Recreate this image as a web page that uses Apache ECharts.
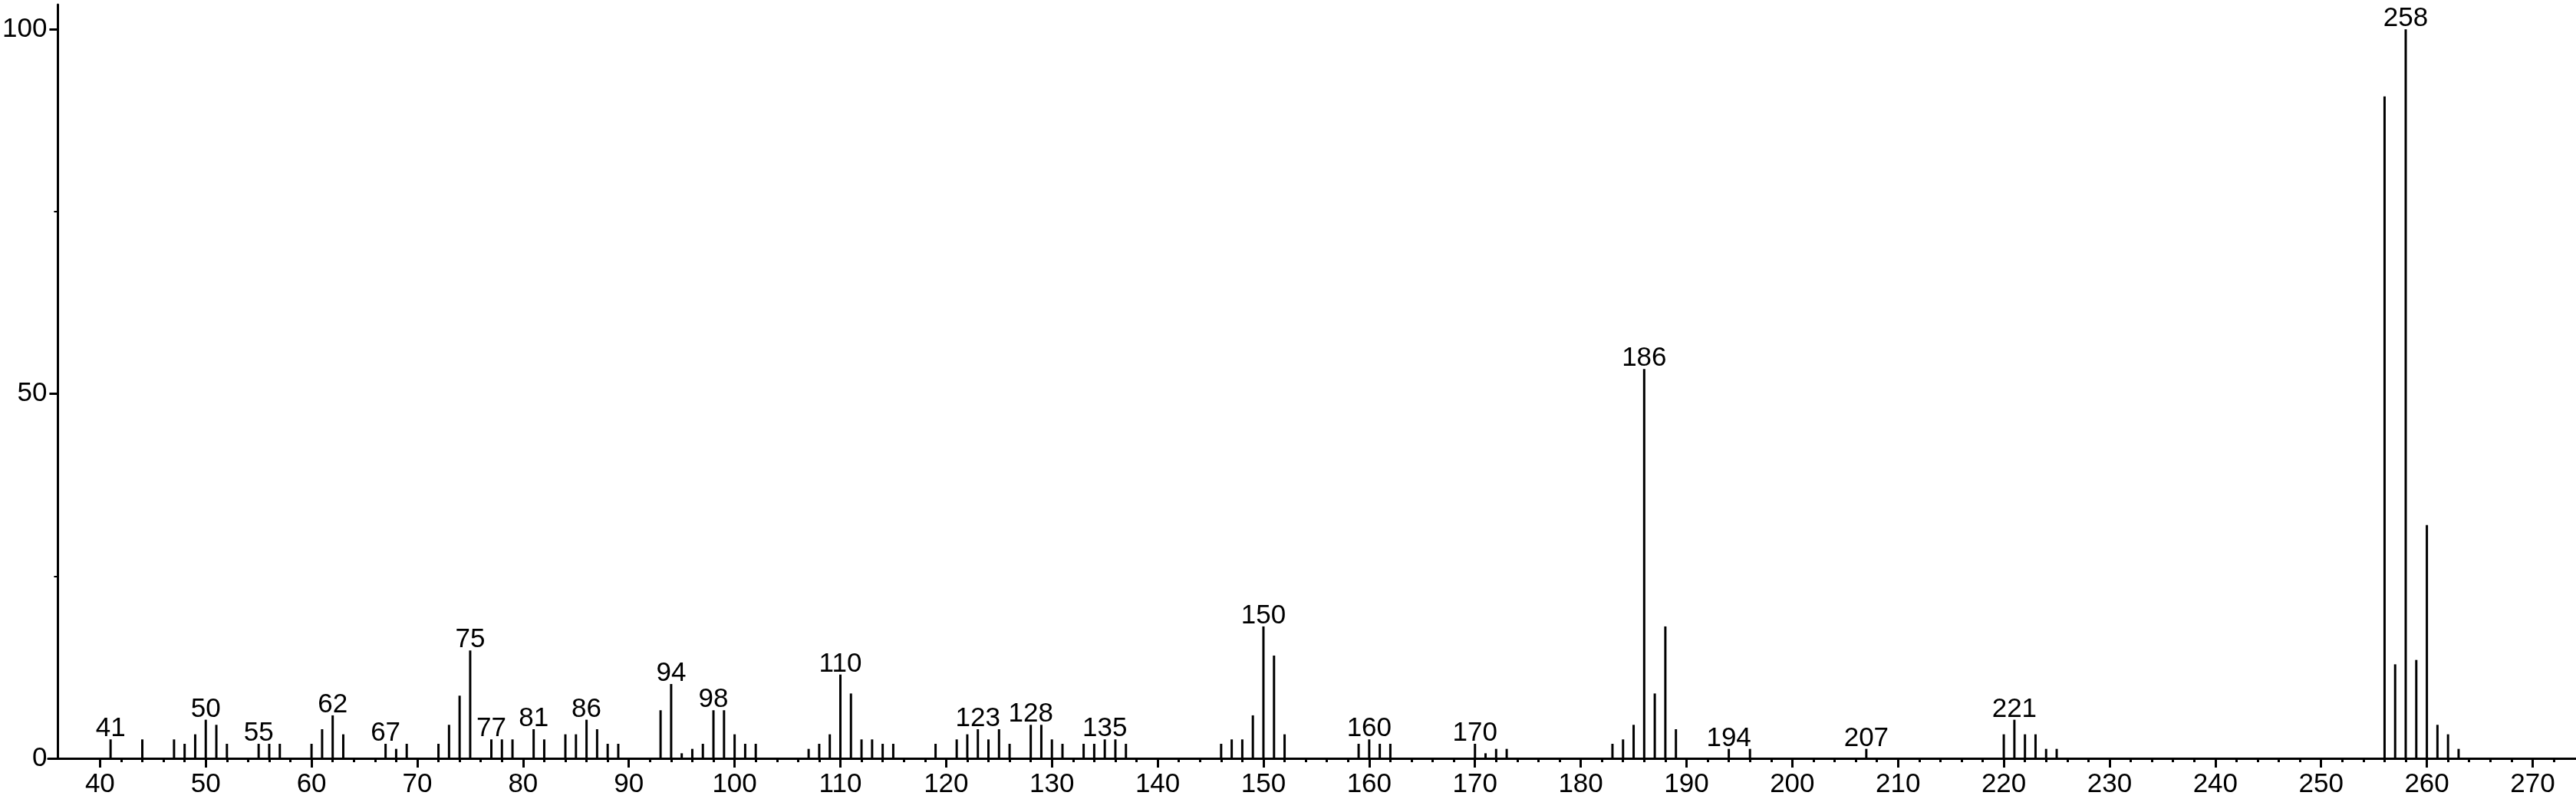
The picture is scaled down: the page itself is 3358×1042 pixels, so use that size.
<!DOCTYPE html>
<html>
<head>
<meta charset="utf-8">
<script src="https://cdn.jsdelivr.net/npm/echarts@6/dist/echarts.min.js"></script>
<style>
  html, body { margin: 0; padding: 0; background: #fff; }
  #chart { width: 3358px; height: 1042px; }
</style>
</head>
<body>
<div id="chart"></div>
<script>
// m/z values and relative intensities
const mz = [41, 44, 47, 48, 49, 50, 51, 52, 55, 56, 57, 60, 61, 62, 63, 67, 68, 69,
  72, 73, 74, 75, 77, 78, 79, 81, 82, 84, 85, 86, 87, 88, 89, 93, 94, 95, 96, 97, 98, 99,
  100, 101, 102, 107, 108, 109, 110, 111, 112, 113, 114, 115, 119, 121, 122, 123, 124, 125,
  126, 128, 129, 130, 131, 133, 134, 135, 136, 137, 146, 147, 148, 149, 150, 151, 152,
  159, 160, 161, 162, 170, 171, 172, 173, 183, 184, 185, 186, 187, 188, 189, 194, 196,
  207, 220, 221, 222, 223, 224, 225, 256, 257, 258, 259, 260, 261, 262, 263];
const intensity = [2.6, 2.6, 2.6, 2.0, 3.3, 5.3, 4.6, 2.0, 2.0, 2.0, 2.0, 2.0, 4.0, 5.9, 3.3, 2.0, 1.3, 2.0,
  2.0, 4.6, 8.6, 14.8, 2.6, 2.6, 2.6, 4.0, 2.6, 3.3, 3.3, 5.3, 4.0, 2.0, 2.0, 6.6, 10.2, 0.7, 1.3, 2.0, 6.6, 6.6,
  3.3, 2.0, 2.0, 1.3, 2.0, 3.3, 11.5, 8.9, 2.6, 2.6, 2.0, 2.0, 2.0, 2.6, 3.3, 4.0, 2.6, 4.0,
  2.0, 4.6, 4.6, 2.6, 2.0, 2.0, 2.0, 2.6, 2.6, 2.0, 2.0, 2.6, 2.6, 5.9, 18.1, 14.1, 3.3,
  2.0, 2.6, 2.0, 2.0, 2.0, 0.7, 1.3, 1.3, 2.0, 2.6, 4.6, 53.4, 8.9, 18.1, 4.0, 1.3, 1.3,
  1.3, 3.3, 5.3, 3.3, 3.3, 1.3, 1.3, 90.8, 12.9, 100, 13.5, 32.0, 4.6, 3.3, 1.3];
// peaks that carry an m/z label
const labeled = [41, 50, 55, 62, 67, 75, 77, 81, 86, 94, 98, 110, 123, 128, 135, 150, 160,
  170, 186, 194, 207, 221, 258];

const xMajorTicks = [40, 50, 60, 70, 80, 90, 100, 110, 120, 130, 140, 150, 160, 170, 180,
  190, 200, 210, 220, 230, 240, 250, 260, 270];
const xMinorTicks = [42, 44, 46, 48, 52, 54, 56, 58, 62, 64, 66, 68, 72, 74, 76, 78, 82, 84, 86, 88,
  92, 94, 96, 98, 102, 104, 106, 108, 112, 114, 116, 118, 122, 124, 126, 128, 132, 134, 136, 138,
  142, 144, 146, 148, 152, 154, 156, 158, 162, 164, 166, 168, 172, 174, 176, 178, 182, 184, 186, 188,
  192, 194, 196, 198, 202, 204, 206, 208, 212, 214, 216, 218, 222, 224, 226, 228, 232, 234, 236, 238,
  242, 244, 246, 248, 252, 254, 256, 258, 262, 264, 266, 268, 272];
const yMajorTicks = [0, 50, 100];
const yMinorTicks = [25, 75];

const FONT = 'Liberation Sans, Arial, sans-serif';
const X_MIN = 35.1, X_MAX = 274.1, Y_MAX = 103.4;

const data = [];
for (let i = 0; i < mz.length; i++) {
  const item = { value: [mz[i], intensity[i]] };
  if (labeled.indexOf(mz[i]) >= 0) {
    item.label = { show: true };
  }
  data.push(item);
}

const chart = echarts.init(document.getElementById('chart'));
chart.setOption({
  animation: false,
  backgroundColor: '#fff',
  grid: { left: 57, right: 0, top: 6, bottom: 53 },
  xAxis: [{
    type: 'value',
    min: X_MIN,
    max: X_MAX,
    axisLine: { show: true, lineStyle: { color: '#000', width: 3 } },
    axisTick: { show: true, customValues: xMajorTicks, length: 12, lineStyle: { color: '#000', width: 3 } },
    axisLabel: { customValues: xMajorTicks, color: '#000', fontSize: 35, fontFamily: FONT, margin: 17 },
    splitLine: { show: false }
  }, {
    type: 'value',
    min: X_MIN,
    max: X_MAX,
    position: 'bottom',
    axisLine: { show: false },
    axisTick: { show: true, customValues: xMinorTicks, length: 5, lineStyle: { color: '#000', width: 3 } },
    axisLabel: { show: false },
    splitLine: { show: false }
  }],
  yAxis: [{
    type: 'value',
    min: 0,
    max: Y_MAX,
    offset: -12.6,
    axisLine: { show: true, lineStyle: { color: '#000', width: 3 } },
    axisTick: { show: true, customValues: yMajorTicks, length: 11, lineStyle: { color: '#000', width: 3 } },
    axisLabel: { customValues: yMajorTicks, color: '#000', fontSize: 35, fontFamily: FONT, margin: 14 },
    splitLine: { show: false }
  }, {
    type: 'value',
    min: 0,
    max: Y_MAX,
    position: 'left',
    offset: -12.6,
    axisLine: { show: false },
    axisTick: { show: true, customValues: yMinorTicks, length: 5, lineStyle: { color: '#000', width: 2 } },
    axisLabel: { show: false },
    splitLine: { show: false }
  }],
  series: [{
    type: 'bar',
    xAxisIndex: 0,
    yAxisIndex: 0,
    barWidth: 3,
    itemStyle: { color: '#000' },
    label: {
      show: false,
      position: 'top',
      distance: -4,
      color: '#000',
      fontSize: 35,
      fontFamily: FONT,
      formatter: function (p) { return p.value[0]; }
    },
    data: data
  }]
});
</script>
</body>
</html>
